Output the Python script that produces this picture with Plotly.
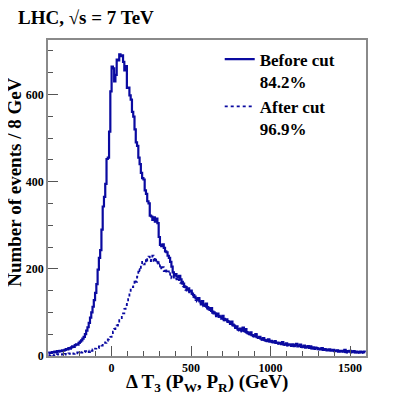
import numpy as np
import plotly.graph_objects as go

# 8 GeV bins from -400 to 1600
bin_width = 8
x_lo, x_hi = -400, 1600

before_cut = [
    6, 8, 7, 9, 8, 10, 9, 11, 10, 12,
    11, 13, 12, 14, 16, 15, 18, 17, 20, 22,
    21, 25, 27, 26, 30, 33, 36, 40, 44, 50,
    58, 66, 76, 88, 100, 113, 128, 145, 165, 198,
    225, 243, 290, 343, 365, 395, 452, 455, 515, 607,
    664, 660, 630, 645, 680, 678, 692, 688, 690, 675,
    655, 665, 615, 616, 598, 588, 560, 549, 520, 490,
    482, 455, 440, 420, 408, 405, 380, 372, 355, 350,
    322, 320, 312, 318, 308, 315, 305, 273, 255, 252,
    256, 248, 240, 238, 230, 225, 216, 205, 192, 185,
    188, 183, 180, 184, 176, 170, 166, 160, 158, 152,
    155, 148, 150, 143, 140, 136, 132, 129, 133, 125,
    122, 126, 118, 115, 120, 112, 110, 106, 110, 102,
    100, 98, 94, 97, 92, 90, 88, 92, 85, 82,
    84, 80, 78, 75, 79, 72, 70, 66, 68, 62,
    60, 63, 58, 65, 57, 62, 55, 52, 50, 54,
    48, 47, 45, 50, 43, 42, 44, 40, 38, 41,
    37, 36, 34, 38, 33, 35, 32, 31, 34, 30,
    31, 29, 30, 28, 32, 27, 26, 29, 25, 27,
    26, 24, 27, 23, 25, 28, 22, 24, 26, 21,
    22, 24, 20, 21, 23, 19, 22, 18, 20, 17,
    19, 18, 16, 17, 15, 18, 14, 16, 15, 13,
    14, 15, 12, 13, 14, 11, 12, 13, 10, 12,
    11, 12, 10, 14, 9, 11, 10, 12, 9, 10,
    11, 9, 10, 8, 9, 10, 8, 9, 10, 9,
]

after_cut = [
    2, 1, 3, 2, 1, 3, 2, 4, 3, 2,
    3, 4, 2, 5, 3, 4, 6, 5, 4, 6,
    5, 7, 6, 8, 7, 9, 8, 10, 9, 11,
    10, 12, 9, 13, 12, 15, 14, 17, 19, 18,
    22, 25, 24, 28, 31, 30, 35, 38, 42, 44,
    50, 56, 62, 67, 70, 76, 82, 87, 92, 98,
    108, 117, 125, 133, 145, 152, 158, 165, 175, 170,
    182, 200, 195, 205, 216, 210, 220, 214, 222, 228,
    218, 225, 230, 215, 226, 212, 220, 205, 210, 198,
    204, 195, 200, 190, 194, 186, 190, 178, 182, 176,
    178, 172, 175, 170, 168, 163, 160, 156, 152, 148,
    150, 144, 146, 139, 136, 132, 128, 125, 129, 121,
    118, 122, 114, 112, 116, 109, 107, 103, 106, 99,
    97, 95, 91, 94, 89, 87, 85, 89, 82, 80,
    81, 78, 76, 73, 76, 70, 68, 64, 66, 60,
    58, 61, 56, 63, 55, 60, 53, 50, 49, 52,
    47, 45, 44, 48, 42, 41, 42, 39, 37, 40,
    36, 35, 33, 37, 32, 34, 31, 30, 33, 29,
    30, 28, 29, 27, 31, 26, 25, 28, 24, 26,
    25, 23, 26, 22, 24, 27, 21, 23, 25, 20,
    21, 23, 19, 20, 22, 18, 21, 17, 19, 16,
    18, 17, 15, 16, 14, 17, 13, 15, 14, 12,
    13, 14, 11, 12, 13, 10, 11, 12, 9, 11,
    10, 11, 9, 13, 8, 10, 9, 11, 8, 9,
    10, 8, 9, 7, 8, 9, 7, 8, 9, 8,
]

centers = np.arange(x_lo + bin_width / 2, x_hi, bin_width)

blue = "#0a0aa0"
serif = "Liberation Serif, Times New Roman, DejaVu Serif, serif"

fig = go.Figure()
fig.add_trace(go.Scatter(
    x=centers, y=before_cut, mode="lines", line_shape="hvh",
    line=dict(color=blue, width=2.2),
    name="<b>Before cut</b><br><b>84.2%</b>"
))
fig.add_trace(go.Scatter(
    x=centers, y=after_cut, mode="lines", line_shape="hvh",
    line=dict(color=blue, width=1.8, dash="dot"),
    name="<b>After cut</b><br><b>96.9%</b>"
))

axis_common = dict(
    showline=True, linecolor="#8a8a8a", linewidth=1.5, mirror=True,
    ticks="inside", ticklen=10, tickcolor="#555", tickwidth=1,
    showgrid=False, zeroline=False, automargin=False,
    tickfont=dict(family=serif, size=12, color="black"),
)

fig.update_xaxes(
    range=[x_lo, x_hi], tickvals=[0, 500, 1000, 1500],
    ticktext=["<b>0</b>", "<b>500</b>", "<b>1000</b>", "<b>1500</b>"],
    minor=dict(dtick=100, ticklen=5, ticks="inside", tickcolor="#555"),
    **axis_common
)
fig.update_yaxes(
    range=[0, 725], tickvals=[0, 200, 400, 600],
    ticktext=["<b>0</b>", "<b>200</b>", "<b>400</b>", "<b>600</b>"],
    minor=dict(dtick=50, ticklen=5, ticks="inside", tickcolor="#555"),
    **axis_common
)

title_font = dict(family=serif, size=19, color="black")

# the page body adds an 8px margin, so the figure is 8px smaller than the window
fig.update_layout(
    width=399, height=389,
    margin=dict(l=40, r=41, t=32, b=41),
    paper_bgcolor="white", plot_bgcolor="white",
    font=dict(family=serif),
    showlegend=True,
    legend=dict(
        x=0.54, y=0.995, xanchor="left", yanchor="top",
        bgcolor="rgba(0,0,0,0)", borderwidth=0,
        font=dict(family=serif, size=17, color="black"),
        valign="top", tracegroupgap=0, itemwidth=30,
    ),
    annotations=[
        dict(text="<b>LHC, √s = 7 TeV</b>", xref="paper", yref="paper",
             x=-0.10, y=1.07, xanchor="left", yanchor="middle", showarrow=False,
             font=title_font),
        dict(text="<b>Δ T<sub>3</sub> (P<sub>W</sub>, P<sub>R</sub>) (GeV)</b>",
             xref="paper", yref="paper", x=0.5, y=-0.085,
             xanchor="center", yanchor="middle", showarrow=False,
             font=title_font),
        dict(text="<b>Number of events / 8 GeV</b>", textangle=-90,
             xref="paper", yref="paper", x=-0.105, y=0.55,
             xanchor="center", yanchor="middle", showarrow=False,
             font=title_font),
    ],
)

fig.write_html("out.html")
